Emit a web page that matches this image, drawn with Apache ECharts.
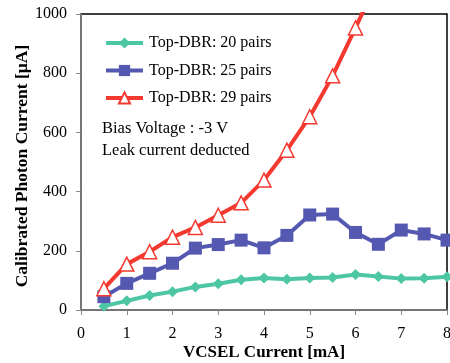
<!DOCTYPE html>
<html><head><meta charset="utf-8">
<script src="https://cdn.jsdelivr.net/npm/echarts@6/dist/echarts.min.js"></script>
<style>html,body{margin:0;padding:0;background:#fff}#c{width:450px;height:363px}</style>
</head><body><div id="c"></div>
<script>
const xValues = [0.5,1,1.5,2,2.5,3,3.5,4,4.5,5,5.5,6,6.5,7,7.5,8];
const pairs20 = [13,31,49,62,78,89,102,108,104,108,110,120,113,106,107,112];
const pairs25 = [45,90,124,158,209,221,236,210,252,321,324,262,222,270,257,236];
const pairs29 = [72,155,197,246,279,320,362,439,540,653,791,953,1120];
const names = ['Top-DBR: 20 pairs','Top-DBR: 25 pairs','Top-DBR: 29 pairs'];
const xTicks = [0,1,2,3,4,5,6,7,8];
const yTicks = [0,200,400,600,800,1000];
const notes = ['Bias Voltage : -3 V','Leak current deducted'];

const font = '"Liberation Serif","Times New Roman",serif';
const pts = (ys) => ys.map((v,i)=>[xValues[i], v]);
const chart = echarts.init(document.getElementById('c'));
chart.setOption({
  animation:false,
  textStyle:{fontFamily:font},
  grid:{left:81,right:3,top:14,bottom:53,outerBoundsMode:'none',containLabel:false,show:true,borderColor:'#000',borderWidth:1.5,backgroundColor:'transparent'},
  legend:{
    orient:'vertical',left:99,top:30,itemGap:11.5,itemWidth:37,itemHeight:14,
    lineStyle:{width:4},
    textStyle:{fontFamily:font,fontSize:16,color:'#000',padding:[0,0,0,1]},
    data:names
  },
  graphic: notes.map((t,i)=>({type:'text',left:102,top:120+i*22,style:{text:t,font:'16.5px '+font,fill:'#000'}})),
  xAxis:{
    type:'value',min:xTicks[0],max:xTicks[xTicks.length-1],interval:1,
    name:'VCSEL Current [mA]',nameLocation:'middle',nameGap:34,nameMoveOverlap:false,
    nameTextStyle:{fontFamily:font,fontSize:17,fontWeight:'bold',color:'#000'},
    axisLine:{lineStyle:{color:'#888',width:1.5}},
    axisTick:{show:true,length:5,lineStyle:{color:'#888'}},
    axisLabel:{fontFamily:font,fontSize:16,color:'#000',margin:16,formatter:(v)=>String(v)},
    splitLine:{show:false}
  },
  yAxis:{
    type:'value',min:yTicks[0],max:yTicks[yTicks.length-1],interval:200,
    name:'Calibrated Photon Current [µA]',nameLocation:'middle',nameGap:50,nameMoveOverlap:false,
    nameTextStyle:{fontFamily:font,fontSize:17.5,fontWeight:'bold',color:'#000',padding:[0,8,0,0]},
    axisLine:{show:true,lineStyle:{color:'#888',width:1.5}},
    axisTick:{show:true,length:5,lineStyle:{color:'#888'}},
    axisLabel:{fontFamily:font,fontSize:16,color:'#000',margin:14,formatter:(v)=>String(v)},
    splitLine:{show:false}
  },
  series:[
    {name:names[0],type:'line',data:pts(pairs20),symbol:'diamond',symbolSize:11,
     lineStyle:{color:'#4cc6a3',width:4},itemStyle:{color:'#4cc6a3'}},
    {name:names[1],type:'line',data:pts(pairs25),symbol:'rect',symbolSize:13,
     lineStyle:{color:'#5558b0',width:4},itemStyle:{color:'#5558b0'}},
    {name:names[2],type:'line',data:pts(pairs29),symbol:'triangle',symbolSize:14,clip:true,
     lineStyle:{color:'#f43a30',width:4},itemStyle:{color:'#fff',borderColor:'#f43a30',borderWidth:1.5}}
  ]
});
</script></body></html>
